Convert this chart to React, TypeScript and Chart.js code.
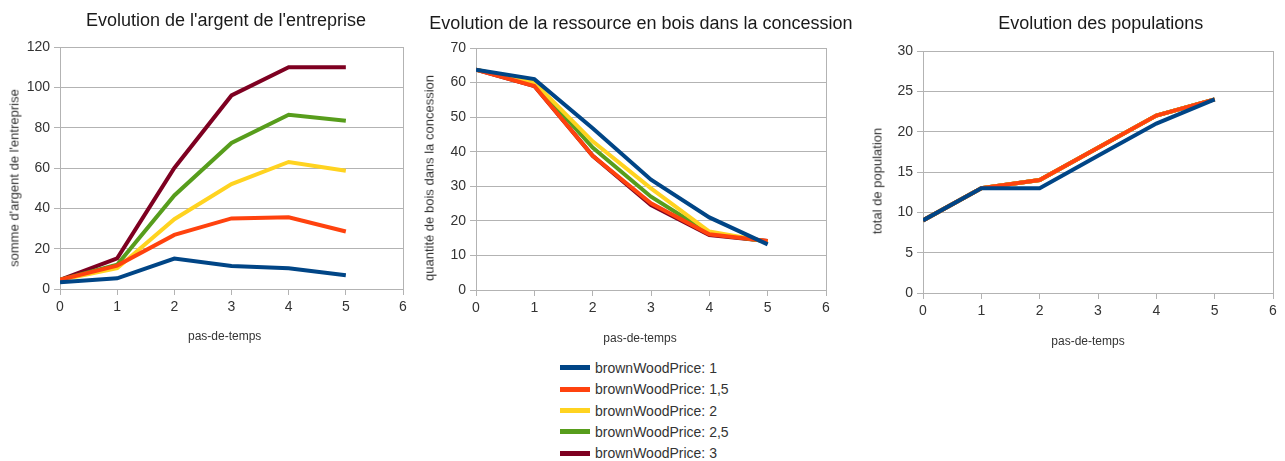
import React, { useEffect, useRef } from "react";
import { Chart, registerables } from "chart.js";

Chart.register(...registerables);

const FONT = "'Liberation Sans', Arial, Helvetica, sans-serif";
Chart.defaults.font.family = FONT;

// ---- data ----
const steps = [0, 1, 2, 3, 4, 5];
const xTicksMax = 6;

const seriesNames = [
  "brownWoodPrice: 1",
  "brownWoodPrice: 1,5",
  "brownWoodPrice: 2",
  "brownWoodPrice: 2,5",
  "brownWoodPrice: 3",
];
const seriesColors = ["#004586", "#ff420e", "#ffd320", "#579d1c", "#7e0021"];

// Evolution de l'argent de l'entreprise
const argentP1 = [3.3, 5.3, 15.1, 11.4, 10.3, 6.8];
const argentP15 = [4.5, 11.6, 26.8, 35, 35.6, 28.5];
const argentP2 = [4.5, 10.3, 34.6, 52, 63, 58.6];
const argentP25 = [4.5, 12, 46.4, 72.4, 86.4, 83.4];
const argentP3 = [4.5, 15.2, 60, 96, 110, 110];

// Evolution de la ressource en bois dans la concession
const boisP1 = [63.7, 61, 46.8, 31.9, 21, 13.2];
const boisP15 = [63.7, 59, 38.8, 25.1, 16.1, 14.2];
const boisP2 = [63.7, 60, 43, 29.4, 16.9, 14];
const boisP25 = [63.7, 60, 41.2, 27, 16.4, 14];
const boisP3 = [63.7, 59, 38.8, 24.6, 15.9, 14.2];

// Evolution des populations
const popP1 = [9, 13, 13, 17, 21, 24];
const popP15 = [9, 13, 14, 18, 22, 24];
const popP2 = [9, 13, 14, 18, 22, 24];
const popP25 = [9, 13, 14, 18, 22, 24];
const popP3 = [9, 13, 14, 18, 22, 24];

const titles = [
  "Evolution de l'argent de l'entreprise",
  "Evolution de la ressource en bois dans la concession",
  "Evolution des populations",
];
const yTitles = [
  "somme d'argent de l'entreprise",
  "quantité de bois dans la concession",
  "total de population",
];
const xTitle = "pas-de-temps";

const GRID = "#b3b3b3";
const TICK_TEXT = "#333333";

type Cfg = {
  left: number;
  top: number;
  width: number;
  height: number;
  series: number[][];
  yMax: number;
  yStep: number;
  padTop: number;
  padRight: number;
  yWidth: number;
  xHeight: number;
};

function LineChart(props: Cfg) {
  const ref = useRef<HTMLCanvasElement | null>(null);
  useEffect(() => {
    if (!ref.current) return;
    const datasets = props.series.map((vals, i) => ({
      label: seriesNames[i],
      data: steps.map((s, j) => ({ x: s, y: vals[j] })),
      borderColor: seriesColors[i],
      backgroundColor: seriesColors[i],
      borderWidth: 4,
      pointRadius: 0,
      tension: 0,
      fill: false,
    }));
    const chart = new Chart(ref.current, {
      type: "line",
      data: { datasets },
      options: {
        animation: false,
        responsive: false,
        events: [],
        layout: {
          padding: { top: props.padTop, right: props.padRight, bottom: 0, left: 0 },
        },
        plugins: {
          legend: { display: false },
          tooltip: { enabled: false },
          title: { display: false },
        },
        scales: {
          x: {
            type: "linear",
            min: 0,
            max: xTicksMax,
            ticks: {
              stepSize: 1,
              color: TICK_TEXT,
              font: { family: FONT, size: 14 },
              padding: 4,
              maxRotation: 0,
            },
            grid: {
              color: (ctx: any) =>
                ctx.tick && ctx.tick.value === xTicksMax ? GRID : "rgba(0,0,0,0)",
              tickColor: GRID,
              tickLength: 6,
              drawTicks: true,
            },
            border: { color: GRID },
            afterFit: (s: any) => {
              s.height = props.xHeight;
            },
          },
          y: {
            type: "linear",
            min: 0,
            max: props.yMax,
            ticks: {
              stepSize: props.yStep,
              color: TICK_TEXT,
              font: { family: FONT, size: 14 },
              padding: 4,
            },
            grid: { color: GRID, tickColor: GRID, tickLength: 6 },
            border: { color: GRID },
            afterFit: (s: any) => {
              s.width = props.yWidth;
            },
          },
        },
      } as any,
    });
    return () => chart.destroy();
  }, []);
  return (
    <canvas
      ref={ref}
      width={props.width}
      height={props.height}
      style={{
        position: "absolute",
        left: props.left,
        top: props.top,
        width: props.width,
        height: props.height,
      }}
    />
  );
}

function Label(p: {
  text: string;
  cx: number;
  cy: number;
  size: number;
  color: string;
  rotate?: boolean;
}) {
  return (
    <div
      style={{
        position: "absolute",
        left: p.cx,
        top: p.cy,
        transform: `translate(-50%, -50%)${p.rotate ? " rotate(-90deg)" : ""}`,
        whiteSpace: "nowrap",
        fontSize: p.size,
        lineHeight: 1,
        color: p.color,
        fontFamily: FONT,
      }}
    >
      {p.text}
    </div>
  );
}

export default function App() {
  return (
    <div
      style={{
        position: "absolute",
        left: 0,
        top: 0,
        width: 1285,
        height: 461,
        background: "#ffffff",
        fontFamily: FONT,
        overflow: "hidden",
      }}
    >
      <LineChart
        left={0}
        top={0}
        width={420}
        height={345}
        series={[argentP1, argentP15, argentP2, argentP25, argentP3]}
        yMax={120}
        yStep={20}
        padTop={47}
        padRight={17}
        yWidth={60}
        xHeight={56}
      />
      <LineChart
        left={420}
        top={0}
        width={440}
        height={345}
        series={[boisP1, boisP15, boisP2, boisP25, boisP3]}
        yMax={70}
        yStep={10}
        padTop={48}
        padRight={34}
        yWidth={56}
        xHeight={55}
      />
      <LineChart
        left={860}
        top={0}
        width={425}
        height={350}
        series={[popP1, popP15, popP2, popP25, popP3]}
        yMax={30}
        yStep={5}
        padTop={51}
        padRight={12}
        yWidth={63}
        xHeight={57}
      />

      <Label text={titles[0]} cx={226} cy={20.3} size={18} color="#1a1a1a" />
      <Label text={titles[1]} cx={641} cy={22.8} size={18} color="#1a1a1a" />
      <Label text={titles[2]} cx={1100.8} cy={22.8} size={18} color="#1a1a1a" />

      <Label text={yTitles[0]} cx={13.8} cy={178.3} size={13} color={TICK_TEXT} rotate />
      <Label text={yTitles[1]} cx={428.8} cy={178.3} size={13} color={TICK_TEXT} rotate />
      <Label text={yTitles[2]} cx={876.7} cy={180.8} size={13} color={TICK_TEXT} rotate />

      <Label text={xTitle} cx={224.7} cy={336} size={12} color={TICK_TEXT} />
      <Label text={xTitle} cx={640} cy={337.5} size={12} color={TICK_TEXT} />
      <Label text={xTitle} cx={1088} cy={340.5} size={12} color={TICK_TEXT} />

      {seriesNames.map((name, i) => (
        <div
          key={name}
          style={{
            position: "absolute",
            left: 560,
            top: 367.7 + i * 21.4,
            transform: "translateY(-50%)",
            display: "flex",
            alignItems: "center",
            whiteSpace: "nowrap",
          }}
        >
          <div style={{ width: 30, height: 5, background: seriesColors[i] }} />
          <div
            style={{
              marginLeft: 5,
              fontSize: 14,
              lineHeight: 1,
              color: TICK_TEXT,
              fontFamily: FONT,
            }}
          >
            {name}
          </div>
        </div>
      ))}
    </div>
  );
}
